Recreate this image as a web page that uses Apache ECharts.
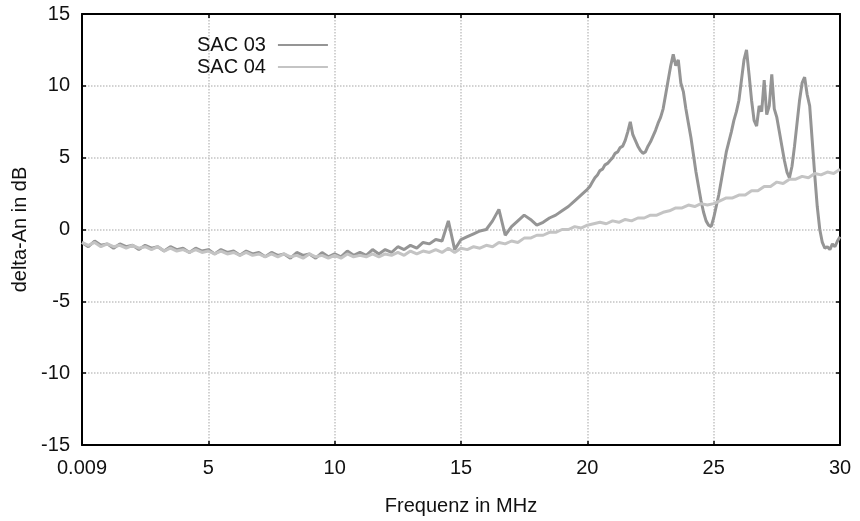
<!DOCTYPE html>
<html>
<head>
<meta charset="utf-8">
<script src="https://cdn.jsdelivr.net/npm/echarts@6/dist/echarts.min.js"></script>
<style>
  html, body { margin: 0; padding: 0; background: #fff; }
  #main { width: 860px; height: 521px; }
</style>
</head>
<body>
<div id="main"></div>
<script>
// Frequenz (MHz) und delta-An (dB)
var sac03Freq = [
  0, 0.25, 0.5, 0.75, 1, 1.25, 1.5, 1.75, 2, 2.25, 2.5, 2.75, 3, 3.25, 3.5, 3.75,
  4, 4.25, 4.5, 4.75, 5, 5.25, 5.5, 5.75, 6, 6.25, 6.5, 6.75, 7, 7.25, 7.5, 7.75,
  8, 8.25, 8.5, 8.75, 9, 9.25, 9.5, 9.75, 10, 10.25, 10.5, 10.75, 11, 11.25, 11.5, 11.75,
  12, 12.25, 12.5, 12.75, 13, 13.25, 13.5, 13.75, 14, 14.25, 14.5, 14.75, 15, 15.25, 15.5, 15.75,
  16, 16.25, 16.5, 16.75, 17, 17.25, 17.5, 17.75, 18, 18.25, 18.5, 18.75, 19, 19.25, 19.5, 19.75,
  20, 20.1, 20.2, 20.3, 20.4, 20.5, 20.6, 20.7, 20.8, 20.9,
  21, 21.1, 21.2, 21.3, 21.4, 21.5, 21.6, 21.7, 21.8, 21.9,
  22, 22.1, 22.2, 22.3, 22.4, 22.5, 22.6, 22.7, 22.8, 22.9,
  23, 23.1, 23.2, 23.3, 23.4, 23.5, 23.6, 23.7, 23.8, 23.9,
  24, 24.1, 24.2, 24.3, 24.4, 24.5, 24.6, 24.7, 24.8, 24.9,
  25, 25.1, 25.2, 25.3, 25.4, 25.5, 25.6, 25.7, 25.8, 25.9,
  26, 26.1, 26.2, 26.3, 26.4, 26.5, 26.6, 26.7, 26.8, 26.9,
  27, 27.1, 27.2, 27.3, 27.4, 27.5, 27.6, 27.7, 27.8, 27.9,
  28, 28.1, 28.2, 28.3, 28.4, 28.5, 28.6, 28.7, 28.8, 28.9,
  29, 29.1, 29.2, 29.3, 29.4, 29.5, 29.6, 29.7, 29.8, 29.9, 30
];
var sac03Val = [
  -0.9, -1.2, -0.8, -1.1, -1.0, -1.3, -1.0, -1.2, -1.1, -1.4, -1.1, -1.3, -1.2, -1.5, -1.2, -1.4,
  -1.3, -1.6, -1.3, -1.5, -1.4, -1.7, -1.4, -1.6, -1.5, -1.8, -1.5, -1.7, -1.6, -1.9, -1.6, -1.8,
  -1.7, -2.0, -1.6, -1.8, -1.7, -2.0, -1.6, -1.9, -1.7, -1.9, -1.5, -1.8, -1.6, -1.8, -1.4, -1.7,
  -1.4, -1.6, -1.2, -1.4, -1.1, -1.3, -0.9, -1.0, -0.7, -0.8, 0.6, -1.4, -0.7, -0.5, -0.3, -0.1,
  0.0, 0.6, 1.4, -0.4, 0.2, 0.6, 1.0, 0.7, 0.3, 0.5, 0.8, 1.0, 1.3, 1.6, 2.0, 2.4,
  2.8, 3.0, 3.3, 3.6, 3.8, 4.1, 4.2, 4.5, 4.6, 4.8,
  5.0, 5.3, 5.4, 5.7, 5.8, 6.2, 6.8, 7.5, 6.6, 6.2,
  5.8, 5.5, 5.3, 5.4, 5.8, 6.1, 6.5, 6.9, 7.4, 7.8,
  8.4, 9.4, 10.4, 11.4, 12.2, 11.4, 11.8, 10.2, 9.6, 8.4,
  7.4, 6.4, 5.2, 4.0, 3.0, 2.0, 1.2, 0.6, 0.3, 0.2,
  0.8, 1.6, 2.4, 3.4, 4.4, 5.4, 6.1, 6.8, 7.6, 8.2,
  9.0, 10.4, 11.8, 12.5, 10.8, 9.0, 7.6, 7.2, 8.6, 8.2,
  10.4, 8.0, 8.6, 10.8, 8.4, 7.8, 6.8, 5.8, 4.8, 4.0,
  3.6, 4.4, 5.8, 7.4, 9.0, 10.2, 10.6, 9.4, 8.6, 6.2,
  3.8, 1.6, 0.0, -0.9, -1.3, -1.2, -1.4, -1.0, -1.2, -0.8, -0.5
];

var sac04Freq = [
  0, 0.25, 0.5, 0.75, 1, 1.25, 1.5, 1.75, 2, 2.25, 2.5, 2.75, 3, 3.25, 3.5, 3.75,
  4, 4.25, 4.5, 4.75, 5, 5.25, 5.5, 5.75, 6, 6.25, 6.5, 6.75, 7, 7.25, 7.5, 7.75,
  8, 8.25, 8.5, 8.75, 9, 9.25, 9.5, 9.75, 10, 10.25, 10.5, 10.75, 11, 11.25, 11.5, 11.75,
  12, 12.25, 12.5, 12.75, 13, 13.25, 13.5, 13.75, 14, 14.25, 14.5, 14.75, 15, 15.25, 15.5, 15.75,
  16, 16.25, 16.5, 16.75, 17, 17.25, 17.5, 17.75, 18, 18.25, 18.5, 18.75, 19, 19.25, 19.5, 19.75,
  20, 20.25, 20.5, 20.75, 21, 21.25, 21.5, 21.75, 22, 22.25, 22.5, 22.75, 23, 23.25, 23.5, 23.75,
  24, 24.25, 24.5, 24.75, 25, 25.25, 25.5, 25.75, 26, 26.25, 26.5, 26.75, 27, 27.25, 27.5, 27.75,
  28, 28.25, 28.5, 28.75, 29, 29.25, 29.5, 29.75, 30
];
var sac04Val = [
  -0.9, -1.1, -0.9, -1.2, -1.0, -1.2, -1.1, -1.3, -1.1, -1.3, -1.2, -1.4, -1.2, -1.5, -1.3, -1.5,
  -1.4, -1.6, -1.4, -1.6, -1.5, -1.7, -1.5, -1.7, -1.6, -1.8, -1.6, -1.8, -1.7, -1.9, -1.7, -1.9,
  -1.7, -1.9, -1.8, -2.0, -1.7, -1.9, -1.8, -2.0, -1.8, -2.0, -1.7, -1.9, -1.8, -1.9, -1.7, -1.9,
  -1.7, -1.8, -1.6, -1.8, -1.5, -1.7, -1.5, -1.6, -1.4, -1.6, -1.3, -1.6, -1.3, -1.4, -1.2, -1.3,
  -1.1, -1.2, -0.9, -1.0, -0.8, -0.9, -0.6, -0.6, -0.4, -0.4, -0.2, -0.2, 0.0, 0.0, 0.2, 0.1,
  0.3, 0.4, 0.5, 0.4, 0.6, 0.5, 0.7, 0.6, 0.8, 0.8, 1.0, 1.0, 1.2, 1.3, 1.5, 1.5,
  1.7, 1.6, 1.8, 1.7, 1.8, 2.0, 2.2, 2.2, 2.4, 2.4, 2.7, 2.7, 3.0, 3.0, 3.3, 3.2,
  3.5, 3.5, 3.7, 3.6, 3.9, 3.8, 4.0, 3.9, 4.2
];

function pairs(xs, ys) {
  var out = [];
  for (var i = 0; i < xs.length; i++) {
    out.push([xs[i], ys[i]]);
  }
  return out;
}

var myChart = echarts.init(document.getElementById('main'));
var font = "'Liberation Sans', Arial, sans-serif";
var frameLine = { onZero: false, lineStyle: { color: '#000', width: 2 } };
var tick = { inside: true, length: 4, lineStyle: { color: '#000', width: 1.5 } };
var gridLine = { show: true, lineStyle: { color: '#c4c4c4', type: 'dotted', width: 1.5 } };

option = {
  backgroundColor: '#fff',
  animation: false,
  textStyle: { fontFamily: font },
  grid: { left: 82, right: 20, top: 14, bottom: 71 },
  legend: {
    orient: 'vertical',
    left: 192,
    top: 30,
    align: 'right',
    icon: 'rect',
    itemWidth: 50,
    itemHeight: 2,
    itemGap: 2,
    textStyle: { fontSize: 20, color: '#111', fontFamily: font, padding: [0, 7, 0, 0] },
    data: ['SAC 03', 'SAC 04']
  },
  xAxis: [{
    type: 'value',
    min: 0,
    max: 30,
    interval: 5,
    name: 'Frequenz in MHz',
    nameLocation: 'middle',
    nameGap: 51,
    nameTextStyle: { fontSize: 20, color: '#111' },
    axisLine: frameLine,
    axisTick: tick,
    axisLabel: {
      fontSize: 20, color: '#111', margin: 13,
      formatter: function (v) { return v === 0 ? '0.009' : String(v); }
    },
    splitLine: gridLine
  }, {
    type: 'value',
    position: 'top',
    min: 0,
    max: 30,
    interval: 5,
    axisLine: frameLine,
    axisTick: tick,
    axisLabel: { show: false },
    splitLine: { show: false }
  }],
  yAxis: [{
    type: 'value',
    min: -15,
    max: 15,
    interval: 5,
    name: 'delta-An in dB',
    nameLocation: 'middle',
    nameGap: 52,
    nameTextStyle: { fontSize: 20, color: '#111' },
    axisLine: frameLine,
    axisTick: tick,
    axisLabel: { fontSize: 20, color: '#111', margin: 12 },
    splitLine: gridLine
  }, {
    type: 'value',
    position: 'right',
    min: -15,
    max: 15,
    interval: 5,
    axisLine: frameLine,
    axisTick: tick,
    axisLabel: { show: false },
    splitLine: { show: false }
  }],
  series: [{
    name: 'SAC 03',
    type: 'line',
    symbol: 'none',
    color: '#959595',
    lineStyle: { width: 3, color: '#959595' },
    data: pairs(sac03Freq, sac03Val)
  }, {
    name: 'SAC 04',
    type: 'line',
    symbol: 'none',
    color: '#c4c4c4',
    lineStyle: { width: 3, color: '#c4c4c4' },
    data: pairs(sac04Freq, sac04Val)
  }]
};
myChart.setOption(option);
</script>
</body>
</html>
